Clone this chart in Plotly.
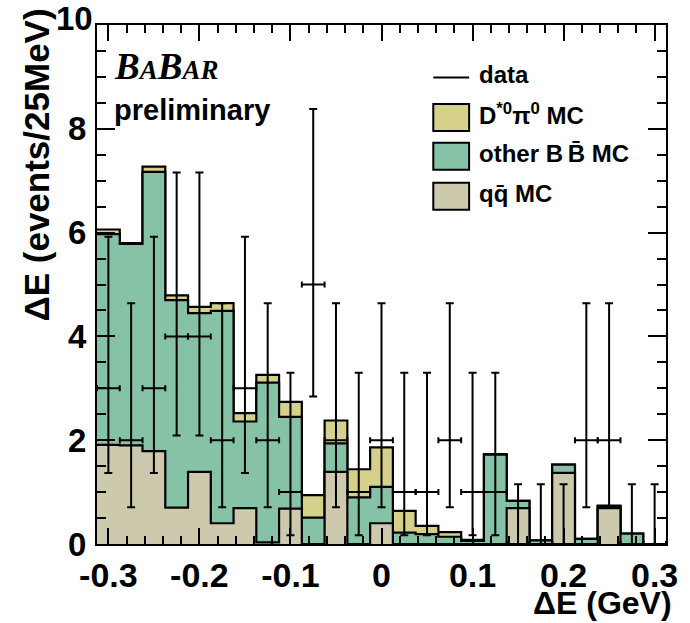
import plotly.graph_objects as go

# Delta-E histogram, 25 MeV bins from -0.3125 to 0.3125 GeV
BIN_LO = -0.3125
BIN_WIDTH = 0.025
N_BINS = 25

# stacked MC components (events / bin)
qq_mc = [1.91, 1.90, 1.79, 0.70, 1.39, 0.40, 0.69, 0.03, 0.68, 0.00, 1.39, 0.00, 0.40,
         0.00, 0.00, 0.00, 0.00, 0.00, 0.69, 0.00, 1.37, 0.00, 0.69, 0.00, 0.00]
bb_mc = [4.06, 3.88, 5.38, 4.00, 3.06, 4.09, 1.67, 3.08, 1.77, 0.51, 0.55, 0.90, 0.70,
         0.22, 0.19, 0.14, 0.06, 1.72, 0.14, 0.07, 0.16, 0.10, 0.04, 0.20, 0.00]
dstpi0_mc = [0.09, 0.02, 0.10, 0.09, 0.12, 0.15, 0.16, 0.15, 0.29, 0.43, 0.44, 0.54, 0.76,
             0.42, 0.16, 0.09, 0.02, 0.01, 0.00, 0.00, 0.00, 0.00, 0.01, 0.00, 0.00]

# observed counts
data_counts = [3, 2, 3, 4, 4, 2, 3, 2, 1, 5, 2, 1, 2, 1, 1, 2, 1, 1, 0, 0, 0, 2, 2, 0, 0]

# 68% Poisson intervals (lower, upper) per observed count
POISSON_68 = {0: (0.0, 1.15), 1: (0.17, 3.30), 2: (0.71, 4.64),
              3: (1.37, 5.92), 4: (2.09, 7.16), 5: (2.84, 8.38)}

x_tick_vals = [-0.3, -0.2, -0.1, 0.0, 0.1, 0.2, 0.3]
x_tick_text = ["-0.3", "-0.2", "-0.1", "0", "0.1", "0.2", "0.3"]
y_tick_vals = [0, 2, 4, 6, 8, 10]
y_tick_text = ["0", "2", "4", "6", "8", ""]   # the top label is placed separately
Y_MAX = 10

COL_DST = "#d5d18a"
COL_BB = "#86c3a6"
COL_QQ = "#cdc9ad"
FONT = "Liberation Sans, Arial, Helvetica, sans-serif"

edges = [BIN_LO + i * BIN_WIDTH for i in range(N_BINS + 1)]
centers = [BIN_LO + (i + 0.5) * BIN_WIDTH for i in range(N_BINS)]

lvl_qq = list(qq_mc)
lvl_bb = [a + b for a, b in zip(qq_mc, bb_mc)]
lvl_all = [a + b for a, b in zip(lvl_bb, dstpi0_mc)]

fig = go.Figure()


def step_fill(levels, color):
    fig.add_trace(go.Scatter(
        x=edges, y=levels + [levels[-1]], mode="lines",
        line=dict(shape="hv", color="black", width=2.2),
        fill="tozeroy", fillcolor=color, hoverinfo="skip", showlegend=False))


step_fill(lvl_all, COL_DST)
step_fill(lvl_bb, COL_BB)
step_fill(lvl_qq, COL_QQ)

err_hi = [POISSON_68[n][1] - n for n in data_counts]
err_lo = [n - POISSON_68[n][0] for n in data_counts]

fig.add_trace(go.Scatter(
    x=centers, y=data_counts, mode="markers",
    marker=dict(size=2, color="black"),
    error_x=dict(type="constant", value=BIN_WIDTH / 2, color="black",
                 thickness=2, width=3),
    error_y=dict(type="data", symmetric=False, array=err_hi, arrayminus=err_lo,
                 color="black", thickness=2, width=4),
    showlegend=False, hoverinfo="skip"))

fig.update_xaxes(
    range=[BIN_LO, BIN_LO + N_BINS * BIN_WIDTH],
    tickmode="array", tickvals=x_tick_vals, ticktext=x_tick_text,
    ticks="inside", ticklen=16, tickwidth=2, tickcolor="black",
    minor=dict(tick0=0, dtick=0.02, ticks="inside", ticklen=8, tickwidth=1.5,
               tickcolor="black"),
    showline=True, linewidth=2, linecolor="black", mirror="ticks",
    showgrid=False, zeroline=False,
    tickfont=dict(family=FONT, size=34, color="black", weight="bold"),
    ticklabelstandoff=0,
)
fig.update_yaxes(
    range=[0, Y_MAX],
    tickmode="array", tickvals=y_tick_vals, ticktext=y_tick_text,
    ticks="inside", ticklen=18, tickwidth=2, tickcolor="black",
    minor=dict(tick0=0, dtick=0.5, ticks="inside", ticklen=9, tickwidth=1.5,
               tickcolor="black"),
    showline=True, linewidth=2, linecolor="black", mirror="ticks",
    showgrid=False, zeroline=False,
    tickfont=dict(family=FONT, size=33, color="black", weight="bold"),
    ticklabelstandoff=2,
)

annotations = [
    # top y label, raised slightly above its tick
    dict(x=0, y=Y_MAX, xref="paper", yref="y", text=f"<b>{Y_MAX}</b>", showarrow=False,
         xanchor="right", yanchor="middle", xshift=-2, yshift=7,
         font=dict(family=FONT, size=33, color="black")),
    # axis titles
    dict(x=-0.107, y=1.035, xref="paper", yref="paper", text="<b>ΔE (events/25MeV)</b>",
         textangle=-90, showarrow=False, xanchor="center", yanchor="top",
         font=dict(family=FONT, size=35, color="black")),
    dict(x=1.014, y=-0.114, xref="paper", yref="paper", text="<b>ΔE (GeV)</b>",
         showarrow=False, xanchor="right", yanchor="middle",
         font=dict(family=FONT, size=32, color="black")),
    # experiment label
    dict(x=0.027, y=0.876, xref="paper", yref="paper",
         text=("<b><i><span style='font-size:37px'>B</span><span style='font-size:27px'>A</span>"
               "<span style='font-size:37px'>B</span><span style='font-size:27px'>AR</span></i></b>"),
         showarrow=False, xanchor="left", yanchor="bottom",
         font=dict(family="Liberation Serif, Times New Roman, serif", size=37, color="black")),
    dict(x=0.027, y=0.836, xref="paper", yref="paper", text="<b>preliminary</b>",
         showarrow=False, xanchor="left", yanchor="middle",
         font=dict(family=FONT, size=29, color="black")),
]

# legend
LEG_X0, LEG_X1, LEG_TX = 0.591, 0.654, 0.668
legend_rows = [
    (0.905, "<b>data</b>", None),
    (0.828, "<b>D<sup>*0</sup>π<sup>0</sup> MC</b>", COL_DST),
    (0.753, "<b>other B\u2009B\u0304 MC</b>", COL_BB),
    (0.676, "<b>qq\u0304 MC</b>", COL_QQ),
]
shapes = []
for yc, label, col in legend_rows:
    annotations.append(dict(x=LEG_TX, y=yc, xref="paper", yref="paper", text=label,
                            showarrow=False, xanchor="left", yanchor="middle",
                            font=dict(family=FONT, size=24, color="black")))
    ym = yc - 0.006
    if col is None:
        shapes.append(dict(type="line", xref="paper", yref="paper",
                           x0=LEG_X0, x1=LEG_X1, y0=ym, y1=ym,
                           line=dict(color="black", width=2)))
    else:
        shapes.append(dict(type="rect", xref="paper", yref="paper",
                           x0=LEG_X0, x1=LEG_X1, y0=ym - 0.026, y1=ym + 0.026,
                           fillcolor=col, line=dict(color="black", width=2)))

fig.update_layout(
    width=690, height=623,
    margin=dict(l=97, r=18, t=25, b=79),
    paper_bgcolor="white", plot_bgcolor="white",
    annotations=annotations, shapes=shapes,
    showlegend=False,
)

fig.write_html("out.html")
